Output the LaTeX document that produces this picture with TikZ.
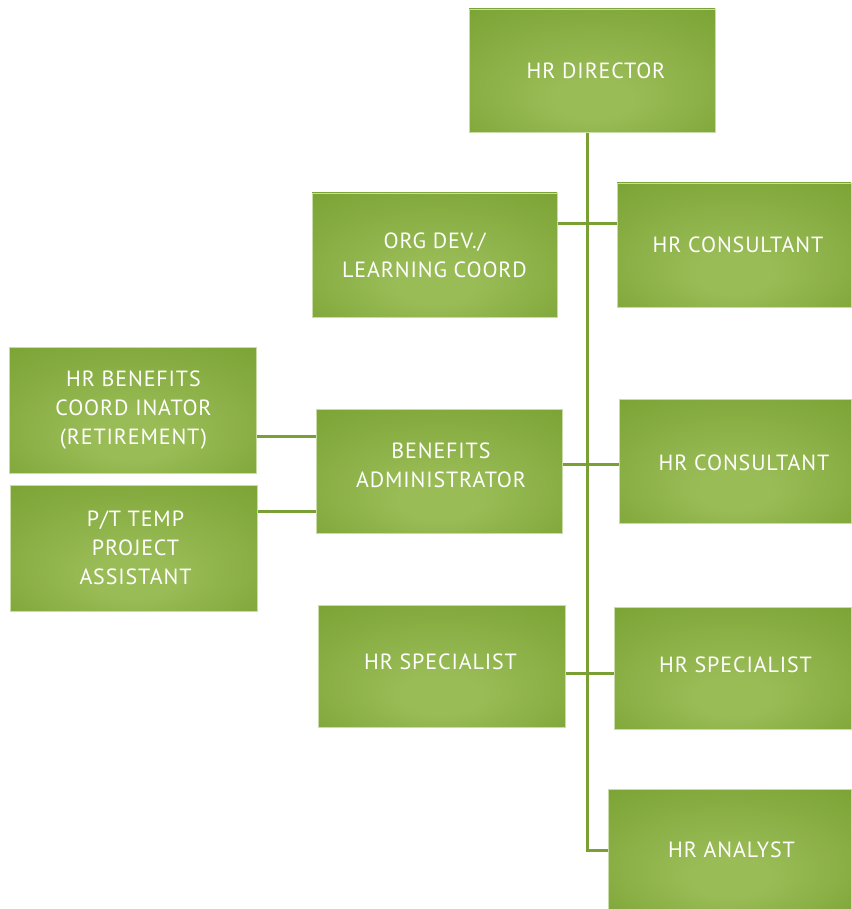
\documentclass[tikz,border=0pt]{standalone}
\usepackage{fontspec}
\setmainfont{PT Sans}[LetterSpace=4]
\definecolor{gin}{HTML}{9ABC57}
\definecolor{gout}{HTML}{77A030}
\definecolor{gline}{HTML}{7A9F35}
\definecolor{gedge}{HTML}{C9DBA6}
\pgfdeclareradialshading{greenbox}{\pgfpoint{0bp}{-14bp}}{color(0bp)=(gin); color(8bp)=(gin); color(42bp)=(gout); color(50bp)=(gout)}
\tikzset{
  box/.style={rectangle, shading=greenbox, draw=gedge, line width=0.8pt, inner sep=0pt},
  lbl/.style={text=white, align=center, font=\fontsize{22}{29}\selectfont, inner sep=0pt},
  conn/.style={draw=gline, line width=3pt}
}
\newcommand{\mybox}[8]{% name, x1, y1, x2, y2, dx, dy(up), text
  \node[box, minimum width=#4-#2, minimum height=#5-#3] (#1) at ({(#2+#4)/2},{(#3+#5)/2}) {};
  \node[lbl] (#1-t) at ([xshift=#6pt,yshift=#7pt]#1.center) {#8};}
\begin{document}
\begin{tikzpicture}[x=1pt,y=-1pt]
\useasboundingbox (0,0) rectangle (851,909);
% connectors first (behind boxes)
\coordinate (tt) at (587,132);
\coordinate (tb) at (587,850);
\coordinate (h1a) at (557,224); \coordinate (h1b) at (617,224);
\coordinate (h2a) at (562,464); \coordinate (h2b) at (619,464);
\coordinate (h3a) at (565,673); \coordinate (h3b) at (614,673);
\coordinate (b1a) at (256,436); \coordinate (b1b) at (316,436);
\coordinate (b2a) at (257,511); \coordinate (b2b) at (316,511);
\coordinate (ta) at (608,850);
\draw[conn] (tt) -- (tb) -- (ta);
\draw[conn] (h1a) -- (h1b);
\draw[conn] (h2a) -- (h2b);
\draw[conn] (h3a) -- (h3b);
\draw[conn] (b1a) -- (b1b);
\draw[conn] (b2a) -- (b2b);
% boxes
\mybox{dir}{469}{9}{715}{132}{4}{0}{HR DIRECTOR}
\mybox{org}{312}{193}{557}{317}{0}{0}{ORG DEV./\\LEARNING COORD}
\mybox{cons1}{617}{183}{851}{307}{4}{0}{HR CONSULTANT}
\mybox{hrbc}{9}{347}{256}{473}{1}{0}{HR BENEFITS\\COORD INATOR\\(RETIREMENT)}
\mybox{badm}{316}{409}{562}{533}{2}{6}{BENEFITS\\ADMINISTRATOR}
\mybox{cons2}{619}{399}{851}{523}{9}{-2}{HR CONSULTANT}
\mybox{ptt}{10}{485}{257}{611}{2}{0}{P/T TEMP\\PROJECT\\ASSISTANT}
\mybox{spec1}{318}{605}{565}{727}{-1}{4}{HR SPECIALIST}
\mybox{spec2}{614}{607}{851}{729}{3}{3}{HR SPECIALIST}
\mybox{ana}{608}{789}{851}{909}{2}{-1}{HR ANALYST}
\end{tikzpicture}
\end{document}
